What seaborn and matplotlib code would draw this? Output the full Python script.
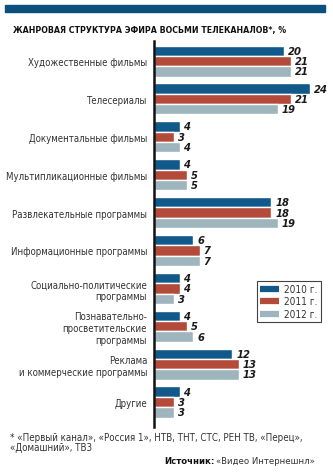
import matplotlib
matplotlib.use("Agg")
import matplotlib.pyplot as plt
from matplotlib.patches import Rectangle
from matplotlib.lines import Line2D
import seaborn as sns
import pandas as pd

genres = [
    "Художественные фильмы",
    "Телесериалы",
    "Документальные фильмы",
    "Мультипликационные фильмы",
    "Развлекательные программы",
    "Информационные программы",
    "Социально-политические\nпрограммы",
    "Познавательно-\nпросветительские\nпрограммы",
    "Реклама\nи коммерческие программы",
    "Другие",
]
years = ["2010 г.", "2011 г.", "2012 г."]
share_2010 = [20, 24, 4, 4, 18, 6, 4, 4, 12, 4]
share_2011 = [21, 21, 3, 5, 18, 7, 4, 5, 13, 3]
share_2012 = [21, 19, 4, 5, 19, 7, 3, 6, 13, 3]

colors = ["#11598a", "#b34a3a", "#9fb5bd"]

rows = []
for year, vals in zip(years, [share_2010, share_2011, share_2012]):
    for g, v in zip(genres, vals):
        rows.append({"genre": g, "year": year, "share": v})
df = pd.DataFrame(rows)

sns.set_style("white")
plt.rcParams["font.family"] = ["DejaVu Sans"]
plt.rcParams["font.stretch"] = "condensed"

W, H = 333, 477
fig = plt.figure(figsize=(W / 100, H / 100), dpi=100)
ax = fig.add_axes([154 / W, 1 - 428 / H, 166 / W, (428 - 42) / H])

sns.barplot(data=df, y="genre", x="share", hue="year", orient="h",
            palette=colors, width=0.82, saturation=1, ax=ax, legend=False)

for cont in ax.containers:
    ax.bar_label(cont, padding=3, fontsize=8, fontweight="bold", fontstyle="italic",
                 color="#1a1a1a")

ax.set_xlim(0, 166 / 6.5)
ax.set_ylim(9.66, -0.53)
ax.set_xlabel("")
ax.set_ylabel("")
ax.set_xticks([])
for s in ["top", "right", "bottom"]:
    ax.spines[s].set_visible(False)
ax.spines["left"].set_color("#111111")
ax.spines["left"].set_linewidth(1.8)
ax.tick_params(axis="y", length=0, pad=5, labelsize=6.9, labelcolor="#333333")
for lbl in ax.get_yticklabels():
    lbl.set_horizontalalignment("right")
    lbl.set_multialignment("right")

handles = [Line2D([0], [0], color=c, lw=4.5, solid_capstyle="butt") for c in colors]
leg = fig.legend(handles, years, loc="upper left",
                 bbox_to_anchor=(257 / W, 1 - 282 / H), frameon=True,
                 fontsize=7.2, handlelength=1.9, handletextpad=0.5,
                 borderpad=0.3, labelspacing=0.25, fancybox=False,
                 borderaxespad=0)
leg.get_frame().set_edgecolor("#111111")
leg.get_frame().set_linewidth(0.8)
for t in leg.get_texts():
    t.set_color("#333333")

# header band and title
fig.patches.append(Rectangle((5 / W, 1 - 13 / H), 320 / W, 7 / H,
                             transform=fig.transFigure, color="#0b4f7c"))
fig.text(13 / W, 1 - 30 / H, "ЖАНРОВАЯ СТРУКТУРА ЭФИРА ВОСЬМИ ТЕЛЕКАНАЛОВ*, %",
         fontsize=6.3, fontweight="bold", va="center", ha="left", color="#111111")

# footnote and source
fig.text(10 / W, 1 - 443 / H,
         "* «Первый канал», «Россия 1», НТВ, ТНТ, СТС, РЕН ТВ, «Перец»,\n«Домашний», ТВ3",
         fontsize=7.0, va="center", ha="left", color="#333333", linespacing=1.0)
src = fig.text(315 / W, 1 - 462 / H, "«Видео Интернешнл»", fontsize=6.8,
               va="center", ha="right", color="#333333")
fig.canvas.draw()
bb = src.get_window_extent()
fig.text((bb.x0 - 2) / W, 1 - 462 / H, "Источник:", fontsize=6.8, fontweight="bold",
         va="center", ha="right", color="#111111")

fig.savefig("out.png", dpi=100)
